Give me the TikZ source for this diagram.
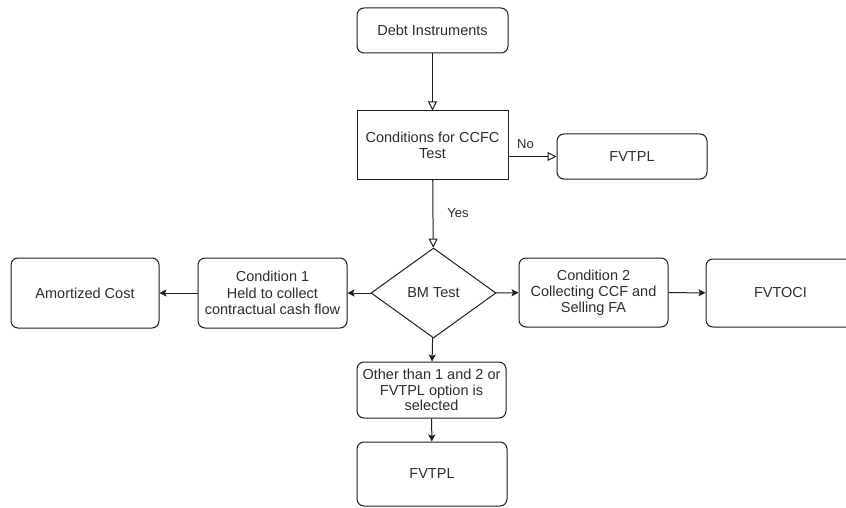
\documentclass[tikz,border=0pt]{standalone}
\usepackage{fontspec}
\setmainfont{Liberation Sans}
\usetikzlibrary{arrows.meta,shapes.geometric}
\newcommand\dgfont{\fontsize{14.5}{16.2}\selectfont}
\definecolor{linec}{RGB}{30,30,30}
\definecolor{textc}{RGB}{45,45,45}
\begin{document}
\begin{tikzpicture}[x=1pt,y=-1pt,
  every node/.style={text=textc, font=\dgfont, align=center, inner sep=0pt},
  rbox/.style={draw=linec, line width=1pt, rounded corners=7pt},
  sbox/.style={draw=linec, line width=1pt},
  openarr/.style={draw=linec, line width=1pt, -{Triangle[open, length=9pt, width=9pt]}},
  fillarr/.style={draw=linec, line width=1pt, -{Stealth[length=7pt, width=7pt, inset=1.5pt]}},
  lbl/.style={font=\fontsize{13}{15}\selectfont}
]
\useasboundingbox (0,0) rectangle (846,508);
\clip (0,0) rectangle (846,508);
\fill[white] (0,0) rectangle (846,508);

\node[rbox, minimum width=151pt, minimum height=45pt] (debt) at (432.5,30.5) {Debt Instruments};
\node[sbox, minimum width=151pt, minimum height=68pt] (ccfc) at (432.5,145) {Conditions for CCFC\\Test};
\node[rbox, minimum width=150pt, minimum height=45pt] (fv1) at (632,156.5) {FVTPL};
\node[draw=linec, line width=1pt, shape=diamond, aspect=1.389, minimum width=125pt, minimum height=90pt] (bm) at (433.5,293) {BM Test};
\node[rbox, minimum width=149pt, minimum height=70pt] (c1) at (272.5,293) {Condition 1\\Held to collect\\contractual cash flow};
\node[rbox, minimum width=148pt, minimum height=70pt] (am) at (85,293) {Amortized Cost};
\node[rbox, minimum width=149pt, minimum height=69pt] (c2) at (593.5,292.5) {Condition 2\\Collecting CCF and\\Selling FA};
\node[rbox, minimum width=149pt, minimum height=68pt] (oci) at (780.5,293) {FVTOCI};
\node[rbox, minimum width=149pt, minimum height=56pt, font=\fontsize{14.5}{15.2}\selectfont] (other) at (431.5,390) {Other than 1 and 2 or\\FVTPL option is\\selected};
\node[rbox, minimum width=150pt, minimum height=64pt] (fv2) at (432,474) {FVTPL};

\node[lbl] (no) at (525.5,144) {No};
\node[lbl] (yes) at (458,213) {Yes};

\draw[openarr] (debt) -- (ccfc);
\draw[openarr] (ccfc.east |- fv1.west) -- (fv1.west);
\draw[openarr] (ccfc) -- (bm);
\draw[fillarr] (bm) -- (c1);
\draw[fillarr] (c1) -- (am);
\draw[fillarr] (bm) -- (c2);
\draw[fillarr] (c2) -- (oci);
\draw[fillarr] (bm) -- (other);
\draw[fillarr] (other) -- (fv2);
\end{tikzpicture}
\end{document}
